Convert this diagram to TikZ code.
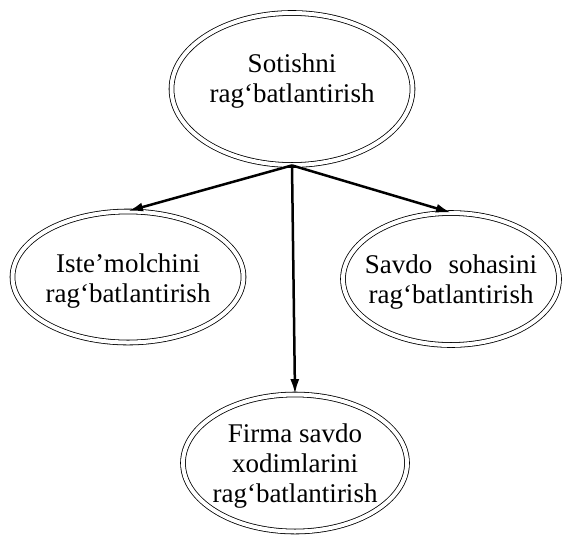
\documentclass[tikz,border=0pt]{standalone}
\usepackage{fontspec}
\setmainfont{Liberation Serif}
\usetikzlibrary{shapes.geometric, arrows.meta}

\begin{document}
\begin{tikzpicture}[x=1pt, y=-1pt, >={Latex[length=15pt,width=9pt]}]
    \tikzset{
        oval/.style={ellipse, draw, double, double distance=4pt, line width=0.8pt, inner sep=0pt},
        txt/.style={align=center, inner sep=0pt, font=\fontsize{27}{30}\selectfont},
        link/.style={->, line width=2.5pt}
    }
    % 画布范围
    \useasboundingbox (0,0) rectangle (569,547);

    % 绘制椭圆
    \node[oval, minimum width=241pt, minimum height=152pt] (sotish) at (292,89) {};
    \node[oval, minimum width=231pt, minimum height=131pt] (istemol) at (128,277) {};
    \node[oval, minimum width=216pt, minimum height=132pt] (savdo) at (451,279) {};
    \node[oval, minimum width=224pt, minimum height=137pt] (firma) at (295,463) {};

    % 椭圆内文字
    \node[txt] (sotishtxt) at (292,81) {Sotishni\\rag‘batlantirish};
    \node[txt] (istemoltxt) at (128,281) {Iste’molchini\\rag‘batlantirish};
    \node[txt] (savdotxt) at (451,282) {Savdo\hspace{0.6em}sohasini\\rag‘batlantirish};
    \node[txt] (firmatxt) at (295,466) {Firma savdo\\xodimlarini\\rag‘batlantirish};

    % 绘制箭头
    \draw[link] (sotish.south) -- (istemol.north);
    \draw[link] (sotish.south) -- (savdo.north);
    \draw[link] (sotish.south) -- (firma.north);
\end{tikzpicture}
\end{document}
